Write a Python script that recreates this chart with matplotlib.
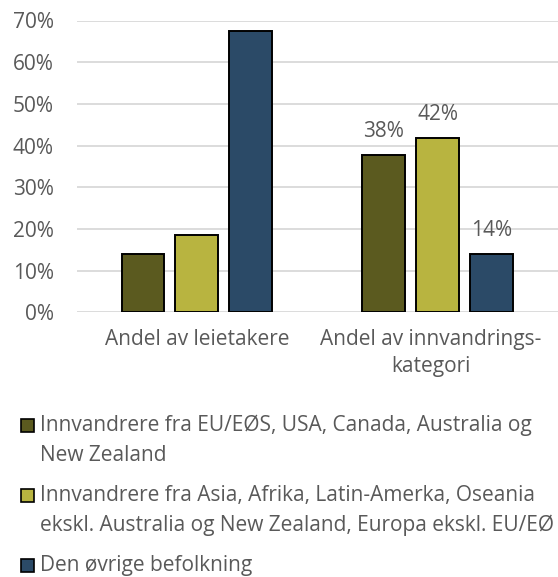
import numpy as np
import matplotlib.pyplot as plt
from matplotlib.patches import Rectangle
from matplotlib.transforms import ScaledTranslation

# data
categories = ['Andel av leietakere', 'Andel av innvandrings-\nkategori']
series_names = [
    'Innvandrere fra EU/EØS, USA, Canada, Australia og\nNew Zealand',
    'Innvandrere fra Asia, Afrika, Latin-Amerka, Oseania\nekskl. Australia og New Zealand, Europa ekskl. EU/EØ',
    'Den øvrige befolkning',
]
eu_vals = [13.9, 37.8]
asia_vals = [18.5, 41.8]
rest_vals = [67.4, 13.9]
show_labels = [False, True]
colors = ['#5b5a1f', '#b8b440', '#2b4a67']

plt.rcParams['font.family'] = ['Open Sans', 'DejaVu Sans']
text_color = '#595959'
fs = 15

W, H = 558, 577
fig = plt.figure(figsize=(W / 100, H / 100), dpi=100)
ax = fig.add_axes([76.5 / W, 1 - 312.3 / H, 1 - 76.5 / W, (312.3 - 20.5) / H])

x = np.arange(len(categories))
w = 0.178
step = 0.224
all_vals = [eu_vals, asia_vals, rest_vals]
for i, vals in enumerate(all_vals):
    bars = ax.bar(x + (i - 1) * step, vals, width=w, color=colors[i],
                  edgecolor='black', linewidth=1.4, zorder=3)
    for j, b in enumerate(bars):
        if show_labels[j]:
            ax.text(b.get_x() + b.get_width() / 2, vals[j] + 4.3, f'{round(vals[j])}%',
                    ha='center', va='baseline', fontsize=fs, color=text_color)

ax.set_xlim(-0.5, 1.5)
ax.set_ylim(0, 70)
ax.set_yticks(np.arange(0, 71, 10))
ax.set_yticklabels([f'{v}%' for v in range(0, 71, 10)])
ax.set_xticks(x)
ax.set_xticklabels(categories, linespacing=1.4)
ax.tick_params(axis='both', length=0, labelsize=fs, labelcolor=text_color)
ax.tick_params(axis='y', pad=16.5)
ax.tick_params(axis='x', pad=12)
# Excel nudges the second category label a little to the left
lab = ax.get_xticklabels()[1]
lab.set_transform(lab.get_transform() + ScaledTranslation(-7 / 100, 0, fig.dpi_scale_trans))
ax.grid(axis='y', color='#d9d9d9', linewidth=1.3, zorder=0)
for s in ax.spines.values():
    s.set_visible(False)

# legend, drawn by hand so the wrapped labels line up
first_baselines = [431, 501, 571]
line_gap = 30
for name, col, y in zip(series_names, colors, first_baselines):
    fig.patches.append(Rectangle((21 / W, 1 - (y + 1) / H), 13 / W, 13 / H,
                                 transform=fig.transFigure, facecolor=col,
                                 edgecolor='black', linewidth=1.2))
    for k, line in enumerate(name.split('\n')):
        fig.text(40 / W, 1 - (y + k * line_gap) / H, line, ha='left', va='baseline',
                 fontsize=fs, color=text_color)

fig.savefig('out.png', dpi=100, facecolor='white')
